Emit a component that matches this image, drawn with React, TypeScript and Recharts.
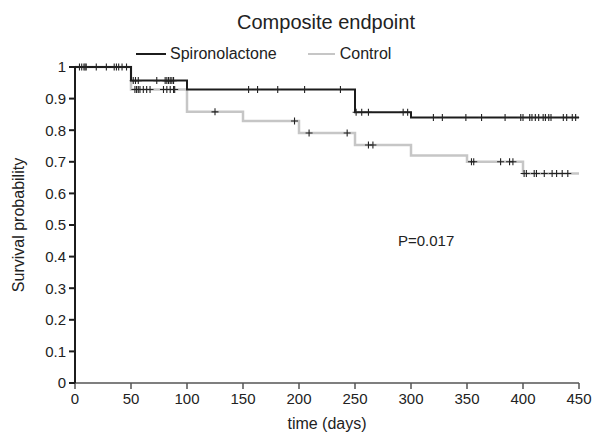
import React from 'react';
import { ComposedChart, Line, Scatter, XAxis, YAxis } from 'recharts';

// Kaplan-Meier steps (day of event, survival after it)
const spiroTimes = [0, 50, 100, 250, 300, 450];
const spiroSurvival = [1, 0.957, 0.929, 0.857, 0.84, 0.84];
const controlTimes = [0, 50, 100, 150, 200, 250, 300, 350, 400, 450];
const controlSurvival = [1, 0.929, 0.858, 0.829, 0.791, 0.753, 0.72, 0.7, 0.663, 0.663];

// censored observations (days)
const spiroCensored = [
  6, 9, 19, 28, 37, 42, 52, 54, 56.5, 73, 80.5, 82, 83.5, 85, 86.5, 88,
  155, 163, 181, 205, 237, 251, 256, 262, 293, 297,
  320, 328, 349, 363, 384, 398, 400, 406, 408, 411, 414, 418, 420, 423, 425, 436, 439, 444, 447,
];
const controlCensored = [
  4, 8, 10, 35, 39, 46, 53.5, 55, 56.5, 58, 61, 64, 67, 79, 82, 85, 88, 89,
  125, 196, 209, 243, 262, 266, 354, 356, 380, 388, 391,
  401, 403, 410, 412, 419, 426, 430, 435, 440,
];

const xTicks = [0, 50, 100, 150, 200, 250, 300, 350, 400, 450];
const yTicks = [0, 0.1, 0.2, 0.3, 0.4, 0.5, 0.6, 0.7, 0.8, 0.9, 1];

const FONT = '"Liberation Sans", Arial, Helvetica, sans-serif';
const BLACK = '#1c1c1c';
const GREY = '#c6c6c6';

const toSeries = (times: number[], surv: number[]) => times.map((t, i) => ({ t, s: surv[i] }));

const stepAt = (times: number[], surv: number[], t: number) => {
  let v = surv[0];
  times.forEach((tt, i) => {
    if (tt <= t) v = surv[i];
  });
  return v;
};

const toCensor = (days: number[], times: number[], surv: number[]) =>
  days.map((t) => ({ t, s: stepAt(times, surv, t) }));

const spiroData = toSeries(spiroTimes, spiroSurvival);
const controlData = toSeries(controlTimes, controlSurvival);
const spiroMarks = toCensor(spiroCensored, spiroTimes, spiroSurvival);
const controlMarks = toCensor(controlCensored, controlTimes, controlSurvival);

const Plus = (props: any) => {
  const { cx, cy } = props;
  if (cx == null || cy == null) return null;
  return <path d={`M${cx - 3.5},${cy}h7M${cx},${cy - 3.5}v7`} stroke="#222" strokeWidth={1.1} fill="none" />;
};

const YLabel = (props: any) => {
  const { viewBox } = props;
  const x = 18;
  const y = viewBox.y + viewBox.height / 2;
  return (
    <text x={x} y={y} transform={`rotate(-90, ${x}, ${y})`} textAnchor="middle" dominantBaseline="central"
      fontSize={16} fill="#222" fontFamily={FONT}>
      Survival probability
    </text>
  );
};

export default function App() {
  return (
    <div style={{ position: 'absolute', left: 0, top: 0, width: 593, height: 433, background: '#fff', fontFamily: FONT, color: '#222' }}>
      <div style={{ position: 'absolute', left: 0, width: 652, top: 11, textAlign: 'center', fontSize: 20 }}>Composite endpoint</div>
      <div style={{ position: 'absolute', left: 136, top: 45, fontSize: 16, display: 'flex', alignItems: 'center' }}>
        <span style={{ display: 'inline-block', width: 30, height: 2, background: BLACK, marginRight: 4 }} />
        <span>Spironolactone</span>
        <span style={{ display: 'inline-block', width: 27, height: 2, background: GREY, marginLeft: 31, marginRight: 5 }} />
        <span>Control</span>
      </div>
      <div style={{ position: 'absolute', left: 398, top: 232, fontSize: 15 }}>P=0.017</div>
      <ComposedChart width={593} height={433} margin={{ top: 67, right: 14, left: 0, bottom: 0 }}>
        <XAxis
          dataKey="t"
          type="number"
          domain={[0, 450]}
          ticks={xTicks}
          interval={0}
          height={50}
          tickSize={6}
          tickMargin={4}
          stroke="#555"
          strokeWidth={1.5}
          tick={{ fontSize: 15, fill: '#222', fontFamily: FONT }}
          label={{ value: 'time (days)', position: 'insideBottom', offset: 4, fontSize: 16, fill: '#222', fontFamily: FONT }}
        />
        <YAxis
          dataKey="s"
          type="number"
          domain={[0, 1]}
          ticks={yTicks}
          interval={0}
          width={75}
          tickSize={6}
          tickMargin={3}
          stroke={BLACK}
          strokeWidth={2}
          tick={{ fontSize: 15, fill: '#222', fontFamily: FONT }}
          label={<YLabel />}
        />
        <Line data={controlData} dataKey="s" type="stepAfter" stroke={GREY} strokeWidth={2.5} dot={false} activeDot={false} isAnimationActive={false} />
        <Line data={spiroData} dataKey="s" type="stepAfter" stroke={BLACK} strokeWidth={2} dot={false} activeDot={false} isAnimationActive={false} />
        <Scatter data={controlMarks} dataKey="s" shape={Plus} isAnimationActive={false} />
        <Scatter data={spiroMarks} dataKey="s" shape={Plus} isAnimationActive={false} />
      </ComposedChart>
    </div>
  );
}
